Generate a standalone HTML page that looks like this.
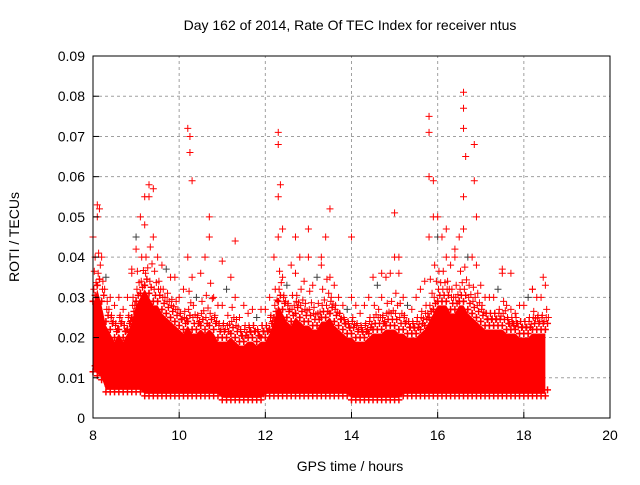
<!DOCTYPE html>
<html><head><meta charset="utf-8"><style>
body{margin:0;background:#fff;}
svg text{font-family:"Liberation Sans",sans-serif;font-size:14px;fill:#000;}
</style></head><body>
<svg id="chart" width="640" height="480" xmlns="http://www.w3.org/2000/svg">
<text x="350" y="30" text-anchor="middle">Day 162 of 2014, Rate Of TEC Index for receiver ntus</text>
<text x="350" y="471" text-anchor="middle">GPS time / hours</text>
<text transform="translate(19,237) rotate(-90)" text-anchor="middle">ROTI / TECUs</text>
<g id="grid"></g>
<g id="marks"></g>
<rect x="93" y="56" width="517" height="362" fill="none" stroke="#000" stroke-width="1"/>
<g id="ticks"></g>
</svg>
<script>
const xTicks=[8,10,12,14,16,18,20];
const yTicks=[0,0.01,0.02,0.03,0.04,0.05,0.06,0.07,0.08,0.09];
const yTickLabels=["0","0.01","0.02","0.03","0.04","0.05","0.06","0.07","0.08","0.09"];
const tStart=8.0, tStep=0.1;
const bandLow=[0.012,0.011,0.010,0.007,0.007,0.007,0.007,0.007,0.007,0.007,
0.007,0.007,0.006,0.006,0.006,0.006,0.006,0.006,0.006,0.006,
0.006,0.006,0.006,0.006,0.006,0.006,0.006,0.006,0.006,0.006,
0.005,0.005,0.005,0.005,0.005,0.005,0.005,0.005,0.005,0.005,
0.006,0.006,0.006,0.006,0.006,0.006,0.006,0.006,0.006,0.006,
0.006,0.006,0.006,0.006,0.006,0.006,0.006,0.006,0.006,0.006,
0.005,0.005,0.005,0.005,0.005,0.005,0.005,0.005,0.005,0.005,
0.005,0.005,0.006,0.006,0.006,0.006,0.006,0.006,0.006,0.006,
0.006,0.006,0.006,0.006,0.006,0.006,0.006,0.006,0.006,0.006,
0.006,0.006,0.006,0.006,0.006,0.006,0.006,0.006,0.006,0.006,
0.006,0.006,0.006,0.006,0.006,0.006];
const bandHigh=[0.028,0.032,0.028,0.023,0.021,0.019,0.021,0.019,0.021,0.024,
0.028,0.030,0.032,0.030,0.028,0.028,0.026,0.025,0.024,0.023,
0.022,0.021,0.023,0.021,0.021,0.022,0.021,0.022,0.021,0.019,
0.019,0.019,0.020,0.019,0.018,0.018,0.019,0.019,0.018,0.019,
0.019,0.021,0.024,0.028,0.026,0.024,0.023,0.025,0.024,0.023,
0.023,0.022,0.022,0.024,0.024,0.025,0.023,0.022,0.021,0.020,
0.020,0.019,0.019,0.019,0.020,0.021,0.021,0.021,0.022,0.022,
0.022,0.021,0.021,0.020,0.020,0.020,0.021,0.022,0.024,0.026,
0.028,0.028,0.028,0.026,0.026,0.028,0.028,0.026,0.025,0.024,
0.023,0.022,0.022,0.022,0.022,0.022,0.021,0.021,0.021,0.020,
0.020,0.020,0.021,0.021,0.021,0.021];
const upper=[0.045,0.050,0.040,0.035,0.030,0.028,0.030,0.027,0.030,0.036,
0.045,0.050,0.048,0.055,0.045,0.040,0.038,0.037,0.035,0.035,
0.030,0.032,0.040,0.035,0.030,0.036,0.040,0.045,0.030,0.028,
0.028,0.032,0.035,0.030,0.025,0.028,0.026,0.027,0.025,0.027,
0.027,0.030,0.040,0.045,0.035,0.033,0.038,0.036,0.040,0.034,
0.040,0.033,0.035,0.040,0.045,0.035,0.033,0.030,0.028,0.027,
0.030,0.028,0.026,0.028,0.030,0.035,0.033,0.030,0.035,0.036,
0.040,0.036,0.030,0.028,0.027,0.030,0.032,0.034,0.045,0.050,
0.045,0.045,0.040,0.038,0.040,0.045,0.047,0.040,0.040,0.038,
0.033,0.030,0.030,0.030,0.032,0.036,0.028,0.027,0.026,0.028,
0.028,0.030,0.032,0.030,0.030,0.033];
const peakT=[8.1,8.15,8.05,9.3,9.4,9.2,10.2,10.25,10.25,10.3,10.7,11.3,12.3,12.3,12.35,12.3,12.4,12.7,13.0,13.5,14.0,15.0,15.1,15.8,15.8,15.8,15.9,16.0,16.2,16.6,16.6,16.6,16.65,16.6,16.85,16.85,16.9,17.5,18.2,18.45,8.9,9.0,11.0,13.3,14.7,16.4,17.7];
const peakV=[0.053,0.052,0.040,0.058,0.057,0.055,0.072,0.066,0.070,0.059,0.050,0.044,0.071,0.068,0.058,0.055,0.047,0.045,0.047,0.052,0.045,0.051,0.040,0.075,0.071,0.060,0.059,0.050,0.047,0.081,0.077,0.072,0.065,0.055,0.068,0.059,0.050,0.037,0.032,0.035,0.037,0.042,0.039,0.038,0.036,0.042,0.036];
const X0=93,X1=610,Y0=418,Y1=56;
const xs=v=>X0+(v-8)/(20-8)*(X1-X0);
const ys=v=>Y0-(v/0.09)*(Y0-Y1);
const NS="http://www.w3.org/2000/svg";
const grid=document.getElementById('grid'),ticks=document.getElementById('ticks'),marks=document.getElementById('marks');
function mk(tag,attrs,parent){const e=document.createElementNS(NS,tag);for(const k in attrs)e.setAttribute(k,attrs[k]);parent.appendChild(e);return e;}
xTicks.forEach((t,i)=>{const x=xs(t);
 if(i>0&&i<xTicks.length-1){const g=mk('line',{x1:x,x2:x,y1:Y0,y2:Y1,stroke:'#a0a0a0','stroke-dasharray':'3,3'},grid);}
 const tk=mk('line',{x1:x,x2:x,y1:Y0,y2:Y0-6,stroke:'#000'},ticks);
 const tx=mk('text',{x:x,y:Y0+22,'text-anchor':'middle'},ticks);tx.textContent=String(t);});
yTicks.forEach((t,i)=>{const y=ys(t);
 if(i>0&&i<yTicks.length-1){const g=mk('line',{x1:X0,x2:X1,y1:y,y2:y,stroke:'#a0a0a0','stroke-dasharray':'3,3'},grid);}
 const tk=mk('line',{x1:X0,x2:X0+6,y1:y,y2:y,stroke:'#000'},ticks);
 const tx=mk('text',{x:X0-8,y:y+5,'text-anchor':'end'},ticks);tx.textContent=yTickLabels[i];});
let pts=[];
bandHigh.forEach((v,i)=>pts.push(xs(tStart+i*tStep)+','+ys(v)));
for(let i=bandLow.length-1;i>=0;i--)pts.push(xs(tStart+i*tStep)+','+ys(bandLow[i]));
const band=mk('polygon',{points:pts.join(' '),fill:'#ff0000'},marks);


function plus(t,v,color,w){const x=xs(t),y=ys(v);const p=mk('path',{d:`M${x-3.5},${y}H${x+3.5}M${x},${y-3.5}V${y+3.5}`,stroke:color,'stroke-width':w||1,fill:'none'},marks);
 
 }
bandHigh.forEach((v,i)=>{const t=tStart+i*tStep;
 plus(t,v+0.001,'#ff0000',1.6);plus(t+0.05,v+0.0025,'#ff0000',1.4);plus(t+0.02,v+0.004,'#ff0000');
 plus(t+0.03,(v+upper[i])/2,'#ff0000');plus(t+0.07,(v*2+upper[i])/3,'#ff0000');});
bandLow.forEach((v,i)=>{plus(tStart+i*tStep,v-0.0005,'#ff0000',1.5);plus(tStart+i*tStep+0.05,v+0.001,'#ff0000',1.5);});
upper.forEach((v,i)=>plus(tStart+i*tStep,v,i%7===3?'#404040':'#ff0000'));
peakT.forEach((t,i)=>plus(t,peakV[i],'#ff0000'));
</script>
</body></html>
